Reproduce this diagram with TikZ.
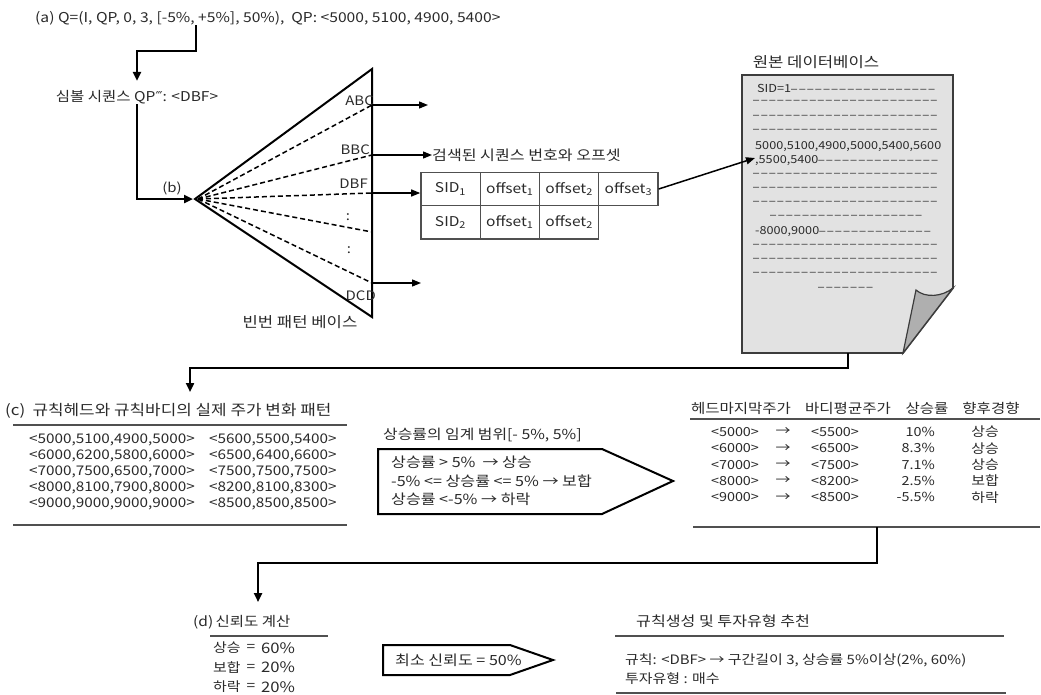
\documentclass[tikz,border=0pt]{standalone}
\usepackage{fontspec}
\setmainfont{Noto Sans CJK KR}[FakeStretch=1.15]
\newfontfamily\monofont{DejaVu Sans Mono}
\newfontfamily\symfont{DejaVu Sans}
\usetikzlibrary{arrows.meta,calc}
\definecolor{ink}{HTML}{2A2A2A}
\definecolor{rulec}{HTML}{505050}
\definecolor{paper}{HTML}{E2E2E2}
\definecolor{foldc}{HTML}{AFAFAF}
\definecolor{paperedge}{HTML}{3C3C3C}
\ExplSyntaxOn
\NewDocumentCommand\dashrun{m}{{\monofont\fontsize{10.1}{12}\selectfont\prg_replicate:nn{#1}{–\kern2pt}}}
\ExplSyntaxOff
\begin{document}
\begin{tikzpicture}[x=1pt,y=-1pt,
  txt/.style={inner sep=0pt,text=ink,font=\fontsize{13}{15}\selectfont},
  doctxt/.style={txt,anchor=west,font=\fontsize{11}{13}\selectfont},
  conn/.style={line width=2.6pt,draw=black},
  arr/.style={-{Triangle[length=9pt,width=8pt]}},
  thinarr/.style={line width=1.3pt,draw=black,-{Triangle[length=9pt,width=7pt]}},
  tri/.style={line width=2pt,draw=black},
  dsh/.style={line width=1.5pt,draw=black,dash pattern=on 5pt off 3pt},
  cell/.style={draw=rulec,line width=1.3pt,minimum width=59.3pt,minimum height=33.3pt,inner sep=0pt,font=\fontsize{13.5}{15}\selectfont,text=ink},
  rulel/.style={line width=1.8pt,draw=rulec},
  pent/.style={line width=2pt,draw=black}]
\useasboundingbox[fill=white] (0,0) rectangle (1041,694);

% (a)
\node[txt,anchor=west,font=\fontsize{13.6}{15}\selectfont] (qa) at (35,18) {(a) Q=(I, QP, 0, 3, [-5\%, +5\%], 50\%),\enspace QP: <5000, 5100, 4900, 5400>};
\coordinate (qax) at (196,0);
\node[txt,font=\fontsize{13.5}{15}\selectfont] (sym) at (137,97) {심볼 시퀀스 QP{\symfont ‴}: <DBF>};
\draw[conn,arr,shorten >=9pt] (qa.south -| qax) -- ++(0,26) -| (sym.north);

% (b) triangle
\coordinate (apex) at (195,199);
\coordinate (ttop) at (372,69);
\coordinate (tbot) at (372,317);
\draw[conn,arr,shorten >=2pt] (sym.south) |- (apex);
\node[txt] (blab) at (172,188) {(b)};
\draw[tri] (apex) -- (ttop) -- (tbot) -- cycle;
\coordinate (ds) at (198,199);
\coordinate (p1) at (372,105);
\coordinate (p2) at (372,155);
\coordinate (p3) at (372,193);
\coordinate (p4) at (372,232);
\coordinate (p5) at (372,283);
\foreach \p in {p1,p2,p3,p4,p5} \draw[dsh] (ds) -- (\p);
\node[txt,anchor=east] (abc) at (374,101) {ABC};
\node[txt,anchor=east] (bbc) at (370,150) {BBC};
\node[txt,anchor=east] (dbf) at (368,184) {DBF};
\node[txt] (v1) at (348,217) {:};
\node[txt] (v2) at (349,250) {:};
\node[txt,anchor=east] (dcd) at (376,296) {DCD};
\node[txt,font=\fontsize{14.5}{16}\selectfont] (fpb) at (300,322) {빈번 패턴 베이스};

% table
\node[txt,anchor=west,font=\fontsize{14}{16}\selectfont] (found) at (432,155) {검색된 시퀀스 번호와 오프셋};
\node[cell] (s1) at (450.5,189) {SID\textsubscript{1}};
\node[cell] (o11) at (509.8,189) {offset\textsubscript{1}};
\node[cell] (o12) at (569.1,189) {offset\textsubscript{2}};
\node[cell] (o13) at (628.4,189) {offset\textsubscript{3}};
\node[cell] (s2) at (450.5,222.3) {SID\textsubscript{2}};
\node[cell] (o21) at (509.8,222.3) {offset\textsubscript{1}};
\node[cell] (o22) at (569.1,222.3) {offset\textsubscript{2}};
\coordinate (e1) at (428,105);
\coordinate (e5) at (421,283);
\draw[thinarr] (p1) -- (e1);
\draw[thinarr] (p2) -- (found.west);
\draw[thinarr] (p3) -- (s1.west |- p3);
\draw[thinarr] (p5) -- (e5);

% document
\node[txt,font=\fontsize{14.5}{16}\selectfont] (dbt) at (816,62) {원본 데이터베이스};
\draw[fill=paper,draw=paperedge,line width=1.8pt] (742,75) -- (953,75) -- (953,288) -- (903,353) -- (742,353) -- cycle;
\draw[fill=foldc,draw=paperedge,line width=1.2pt] (953,288) .. controls (942,297) and (925,298) .. (916,290) -- (903,353) -- cycle;
\node[doctxt] (l1) at (757,88) {SID=1\dashrun{18}};
\node[doctxt] (l2) at (753,102) {\dashrun{23}};
\node[doctxt] (l3) at (753,117) {\dashrun{23}};
\node[doctxt] (l4) at (753,131) {\dashrun{23}};
\node[doctxt] (l5) at (755,147) {5000,5100,4900,5000,5400,5600};
\node[doctxt] (l6) at (755,161) {,5500,5400\dashrun{15}};
\node[doctxt] (l7) at (753,175) {\dashrun{23}};
\node[doctxt] (l8) at (753,189) {\dashrun{23}};
\node[doctxt] (l9) at (753,203) {\dashrun{23}};
\node[doctxt] (l10) at (770,217) {\dashrun{19}};
\node[doctxt] (l11) at (755,232) {-8000,9000\dashrun{14}};
\node[doctxt] (l12) at (753,246) {\dashrun{23}};
\node[doctxt] (l13) at (753,260) {\dashrun{23}};
\node[doctxt] (l14) at (753,274) {\dashrun{23}};
\node[doctxt] (l15) at (818,289) {\dashrun{7}};
\coordinate (docin) at (755,158);
\draw[line width=1.5pt,-{Triangle[length=9pt,width=7pt]}] (o13.east) -- (docin);

% to (c)
\coordinate (docb) at (848,353);
\coordinate (turn1) at (848,368);
\coordinate (cin) at (190,392);
\draw[conn,arr] (docb) -- (turn1) -| (cin);

% (c)
\node[txt,anchor=west,font=\fontsize{14.7}{16}\selectfont] (ct) at (5,411) {(c)\enspace 규칙헤드와 규칙바디의 실제 주가 변화 패턴};
\draw[rulel] (13,425) -- (347,425);
\draw[rulel] (13,525) -- (347,525);
\foreach \i/\a/\b in {0/{<5000,5100,4900,5000>}/{<5600,5500,5400>},
                      1/{<6000,6200,5800,6000>}/{<6500,6400,6600>},
                      2/{<7000,7500,6500,7000>}/{<7500,7500,7500>},
                      3/{<8000,8100,7900,8000>}/{<8200,8100,8300>},
                      4/{<9000,9000,9000,9000>}/{<8500,8500,8500>}}{
  \node[txt,anchor=west,font=\fontsize{13.3}{15}\selectfont] (ca\i) at (29,440+16*\i) {\a};
  \node[txt,anchor=west,font=\fontsize{13.3}{15}\selectfont] (cb\i) at (209,440+16*\i) {\b};
}

% threshold
\node[txt,anchor=west,font=\fontsize{13.8}{15}\selectfont] (thr) at (383,435) {상승률의 임계 범위[- 5\%, 5\%]};
\draw[pent] (378,449) -- (602,449) -- (673,481) -- (602,514) -- (378,514) -- cycle;
\node[txt,anchor=west,font=\fontsize{14}{15}\selectfont] (t1) at (391,462) {상승률 > 5\%\enspace → 상승};
\node[txt,anchor=west,font=\fontsize{14}{15}\selectfont] (t2) at (391,481) {-5\% <= 상승률 <= 5\% → 보합};
\node[txt,anchor=west,font=\fontsize{14}{15}\selectfont] (t3) at (391,499) {상승률 <-5\% → 하락};

% right table
\node[txt,font=\fontsize{13.5}{15}\selectfont] (h1) at (741,408) {헤드마지막주가};
\node[txt,font=\fontsize{13.5}{15}\selectfont] (h2) at (848,408) {바디평균주가};
\node[txt,font=\fontsize{13.5}{15}\selectfont] (h3) at (927,408) {상승률};
\node[txt,font=\fontsize{13.5}{15}\selectfont] (h4) at (991,408) {향후경향};
\draw[rulel] (690,419) -- (1040,419);
\draw[rulel] (693,527) -- (1040,527);
\foreach \i/\a/\b/\r/\t in {0/5000/5500/10\%/상승,1/6000/6500/8.3\%/상승,2/7000/7500/7.1\%/상승,3/8000/8200/2.5\%/보합,4/9000/8500/-5.5\%/하락}{
  \node[txt,font=\fontsize{12.5}{15}\selectfont] (ra\i) at (735,432+16.3*\i) {<\a>};
  \node[txt,font=\fontsize{13}{15}\selectfont] (rr\i) at (783,432+16.3*\i) {→};
  \node[txt,font=\fontsize{12.5}{15}\selectfont] (rb\i) at (835,432+16.3*\i) {<\b>};
  \node[txt,anchor=east,font=\fontsize{12.5}{15}\selectfont] (rp\i) at (935,432+16.3*\i) {\r};
  \node[txt,font=\fontsize{13}{15}\selectfont] (rt\i) at (985,432+16.3*\i) {\t};
}

% to (d)
\coordinate (rbot) at (877,527);
\coordinate (turn2) at (877,563);
\coordinate (din) at (258,602);
\draw[conn,arr] (rbot) -- (turn2) -| (din);

% (d)
\node[txt,anchor=west,font=\fontsize{13.5}{16}\selectfont] (dt) at (193,622) {(d)\,신뢰도 계산};
\draw[rulel] (210,636) -- (328,636);
\foreach \i/\k/\v in {0/상승/60\%,1/보합/20\%,2/하락/20\%}{
  \node[txt,anchor=west,font=\fontsize{13}{15}\selectfont] (dk\i) at (213,648+19.5*\i) {\k};
  \node[txt,font=\fontsize{13.5}{15}\selectfont] (de\i) at (251,648+19.5*\i) {=};
  \node[txt,anchor=west,font=\fontsize{14.5}{15}\selectfont] (dv\i) at (261,648+19.5*\i) {\v};
}
\draw[pent] (383,645) -- (510,645) -- (553,660) -- (510,675) -- (383,675) -- cycle;
\node[txt,anchor=west,font=\fontsize{14}{15}\selectfont] (minc) at (395,660) {최소 신뢰도 = 50\%};

% rule generation
\node[txt,anchor=west,font=\fontsize{14}{15}\selectfont] (rg) at (636,621) {규칙생성 및 투자유형 추천};
\draw[rulel] (615,636) -- (1004,636);
\node[txt,anchor=west,font=\fontsize{13}{15}\selectfont] (rg1) at (625,660) {규칙: <DBF> → 구간길이 3, 상승률 5\%이상(2\%, 60\%)};
\node[txt,anchor=west,font=\fontsize{13}{15}\selectfont] (rg2) at (625,679) {투자유형 : 매수};
\draw[rulel] (616,693) -- (1006,693);
\end{tikzpicture}
\end{document}
